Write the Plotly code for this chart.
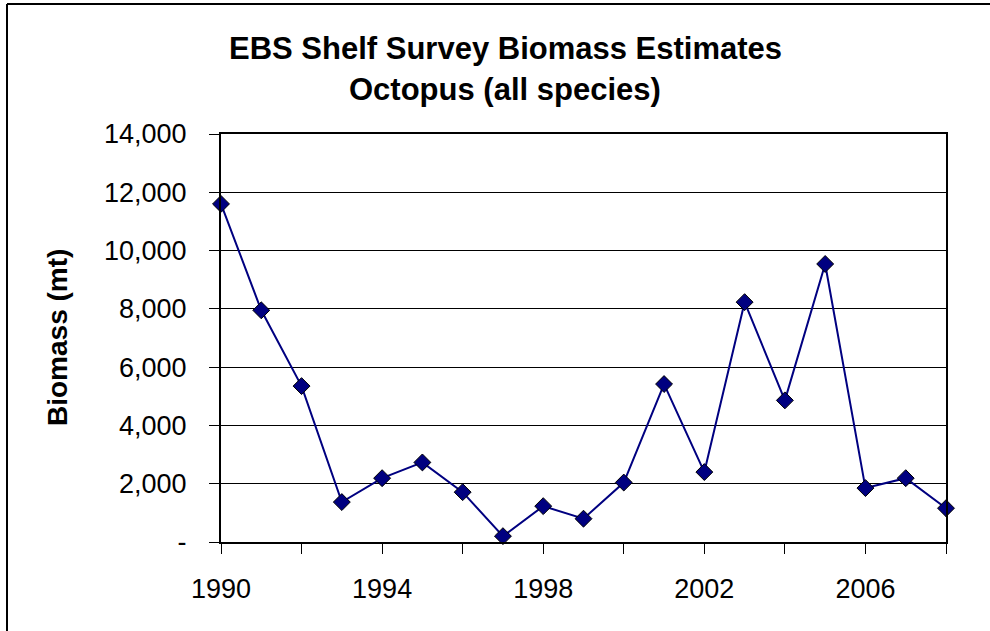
import plotly.graph_objects as go

# Survey years and biomass estimates (metric tons)
years = [1990, 1991, 1992, 1993, 1994, 1995, 1996, 1997, 1998, 1999,
         2000, 2001, 2002, 2003, 2004, 2005, 2006, 2007, 2008]
biomass = [11600, 7950, 5350, 1370, 2190, 2730, 1710, 200, 1230, 800,
           2040, 5420, 2400, 8230, 4860, 9540, 1850, 2190, 1160]

y_tickvals = [0, 2000, 4000, 6000, 8000, 10000, 12000, 14000]
y_ticktext = ["-", "2,000", "4,000", "6,000", "8,000", "10,000", "12,000", "14,000"]
x_tickvals = [1990, 1994, 1998, 2002, 2006]

title_line1 = "EBS Shelf Survey Biomass Estimates"
title_line2 = "Octopus (all species)"
y_title = "Biomass (mt)"

W, H = 990, 631
L, R, T, B = 221, 44, 134, 89
pw, ph = W - L - R, H - T - B


def px_x(p):
    return (p - L) / pw


def px_y(p):
    return (H - B - p) / ph


FONT = "Arial, Liberation Sans, sans-serif"

fig = go.Figure()
fig.add_trace(go.Scatter(
    x=years, y=biomass, mode="lines+markers",
    line=dict(color="#000080", width=2),
    marker=dict(symbol="diamond", size=13, color="#000080",
                line=dict(color="black", width=1)),
    cliponaxis=False, showlegend=False,
))

fig.update_layout(
    width=W, height=H,
    margin=dict(l=L, r=R, t=T, b=B, pad=0),
    paper_bgcolor="white", plot_bgcolor="white",
    font=dict(family=FONT, color="black"),
    xaxis=dict(
        range=[1990, 2008], tickvals=x_tickvals,
        ticks="outside", ticklen=10, tickwidth=1, tickcolor="black",
        minor=dict(tickvals=list(range(1990, 2009, 2)), ticks="outside",
                   ticklen=10, tickwidth=1, tickcolor="black", showgrid=False),
        showgrid=False, zeroline=False,
        showline=True, linecolor="black", linewidth=2, mirror=True,
        tickfont=dict(size=27, family=FONT), ticklabelstandoff=12,
    ),
    yaxis=dict(
        range=[0, 14000], tickvals=y_tickvals, ticktext=y_ticktext,
        ticks="outside", ticklen=10, tickwidth=1, tickcolor="black",
        showgrid=True, gridcolor="black", gridwidth=1, zeroline=False,
        showline=True, linecolor="black", linewidth=2, mirror=True,
        tickfont=dict(size=27, family=FONT), ticklabelstandoff=17,
    ),
    annotations=[
        dict(text=f"<b>{title_line1}</b>", xref="paper", yref="paper",
             x=px_x(505), y=px_y(48), xanchor="center", yanchor="middle",
             showarrow=False, font=dict(size=31, family=FONT)),
        dict(text=f"<b>{title_line2}</b>", xref="paper", yref="paper",
             x=px_x(505), y=px_y(90), xanchor="center", yanchor="middle",
             showarrow=False, font=dict(size=31, family=FONT)),
        dict(text=f"<b>{y_title}</b>", xref="paper", yref="paper",
             x=px_x(57), y=0.5, xanchor="center", yanchor="middle",
             textangle=-90, showarrow=False, font=dict(size=28, family=FONT)),
    ],
    shapes=[
        dict(type="line", xref="paper", yref="paper",
             x0=px_x(7), x1=px_x(W + 5), y0=px_y(4), y1=px_y(4),
             line=dict(color="black", width=2)),
        dict(type="line", xref="paper", yref="paper",
             x0=px_x(7), x1=px_x(7), y0=px_y(4), y1=px_y(H + 5),
             line=dict(color="black", width=2)),
    ],
)

fig.write_html("out.html")
